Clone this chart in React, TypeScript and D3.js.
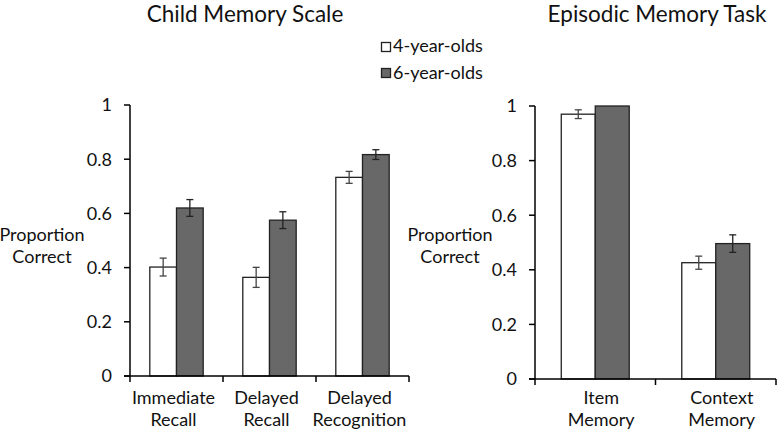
import React from "react";
import * as d3 from "d3";

const groups = ["4-year-olds", "6-year-olds"];
const leftCategories = [["Immediate", "Recall"], ["Delayed", "Recall"], ["Delayed", "Recognition"]];
const leftYoung = [0.402, 0.364, 0.733];
const leftYoungErr = [0.033, 0.037, 0.022];
const leftOld = [0.62, 0.575, 0.817];
const leftOldErr = [0.031, 0.031, 0.018];
const rightCategories = [["Item", "Memory"], ["Context", "Memory"]];
const rightYoung = [0.97, 0.426];
const rightYoungErr = [0.016, 0.024];
const rightOld = [1.0, 0.496];
const rightOldErr = [0, 0.032];
const yTicks = [0, 0.2, 0.4, 0.6, 0.8, 1];
const yTickLabels = ["0", "0.2", "0.4", "0.6", "0.8", "1"];

const FONT = "Lato, 'Open Sans', sans-serif";
const FILLS = ["#ffffff", "#686868"];

type PanelProps = {
  x0: number; x1: number; y0: number; y1: number;
  cats: string[][]; young: number[]; youngErr: number[]; old: number[]; oldErr: number[];
  pad: number; labelDx: number; ylabX: number;
};

function Panel(p: PanelProps) {
  const x = d3.scaleBand<number>().domain(p.cats.map((_, i) => i)).range([p.x0, p.x1]).paddingInner(0).paddingOuter(0);
  const y = d3.scaleLinear().domain([0, 1]).range([p.y0, p.y1]);
  const bw = x.bandwidth();
  const inner = d3.scaleBand<number>().domain([0, 1]).range([bw * p.pad, bw * (1 - p.pad)]);
  const series = [
    { v: p.young, e: p.youngErr },
    { v: p.old, e: p.oldErr },
  ];
  return (
    <g fontFamily={FONT}>
      {p.cats.map((c, i) =>
        series.map((s, k) => {
          const bx = (x(i) as number) + (inner(k) as number);
          const w = inner.bandwidth();
          const cx = bx + w / 2;
          return (
            <g key={`${i}-${k}`}>
              <rect x={bx} y={y(s.v[i])} width={w} height={y(0) - y(s.v[i])} fill={FILLS[k]} stroke="#222" strokeWidth={1.3} />
              {s.e[i] > 0 && (
                <g stroke={k === 0 ? "#444" : "#222"} strokeWidth={1.3}>
                  <line x1={cx} x2={cx} y1={y(s.v[i] + s.e[i])} y2={y(s.v[i] - s.e[i])} />
                  <line x1={cx - 3.5} x2={cx + 3.5} y1={y(s.v[i] + s.e[i])} y2={y(s.v[i] + s.e[i])} />
                  <line x1={cx - 3.5} x2={cx + 3.5} y1={y(s.v[i] - s.e[i])} y2={y(s.v[i] - s.e[i])} />
                </g>
              )}
            </g>
          );
        })
      )}
      <line x1={p.x0} x2={p.x0} y1={y(1)} y2={y(0)} stroke="#000" strokeWidth={1.5} />
      {yTicks.map((t, i) => (
        <g key={t}>
          <line x1={p.x0 - 6} x2={p.x0} y1={y(t)} y2={y(t)} stroke="#000" strokeWidth={1.5} />
          <text x={p.x0 - 18} y={y(t)} dy="0.35em" textAnchor="end" fontSize={18} fill="#111">{yTickLabels[i]}</text>
        </g>
      ))}
      <line x1={p.x0 - 6} x2={p.x1} y1={y(0)} y2={y(0)} stroke="#000" strokeWidth={1.5} />
      {d3.range(p.cats.length + 1).map((i) => {
        const tx = i < p.cats.length ? (x(i) as number) : p.x1;
        return <line key={i} x1={tx} x2={tx} y1={y(0)} y2={y(0) + 6} stroke="#000" strokeWidth={1.5} />;
      })}
      {p.cats.map((c, i) => {
        const cx = (x(i) as number) + bw / 2 + p.labelDx;
        return (
          <text key={i} x={cx} y={404} textAnchor="middle" fontSize={18} fill="#111">
            <tspan x={cx}>{c[0]}</tspan>
            <tspan x={cx} dy={22}>{c[1]}</tspan>
          </text>
        );
      })}
      <text x={p.ylabX} y={241} textAnchor="middle" fontSize={18} fill="#111">
        <tspan x={p.ylabX}>Proportion</tspan>
        <tspan x={p.ylabX} dy={22}>Correct</tspan>
      </text>
    </g>
  );
}

export default function App() {
  return (
    <svg width={777} height={430} style={{ position: "absolute", left: 0, top: 0, background: "#fff" }}>
      <rect width={777} height={430} fill="#fff" />
      <text x={245} y={22} textAnchor="middle" fontSize={22.5} fontFamily={FONT} fill="#111">Child Memory Scale</text>
      <text x={657} y={22} textAnchor="middle" fontSize={22.5} fontFamily={FONT} fill="#111">Episodic Memory Task</text>
      {groups.map((g, k) => (
        <g key={g} fontFamily={FONT}>
          <rect x={381.5} y={42.5 + k * 26} width={9} height={9} fill={FILLS[k]} stroke="#222" strokeWidth={1.3} />
          <text x={393} y={52 + k * 26.5} fontSize={18} fill="#111">{g}</text>
        </g>
      ))}
      <Panel x0={130} x1={409} y0={376} y1={105} cats={leftCategories} young={leftYoung} youngErr={leftYoungErr}
        old={leftOld} oldErr={leftOldErr} pad={0.213} labelDx={-3} ylabX={42} />
      <Panel x0={535} x1={776} y0={379} y1={106} cats={rightCategories} young={rightYoung} youngErr={rightYoungErr}
        old={rightOld} oldErr={rightOldErr} pad={0.218} labelDx={6} ylabX={450} />
    </svg>
  );
}
